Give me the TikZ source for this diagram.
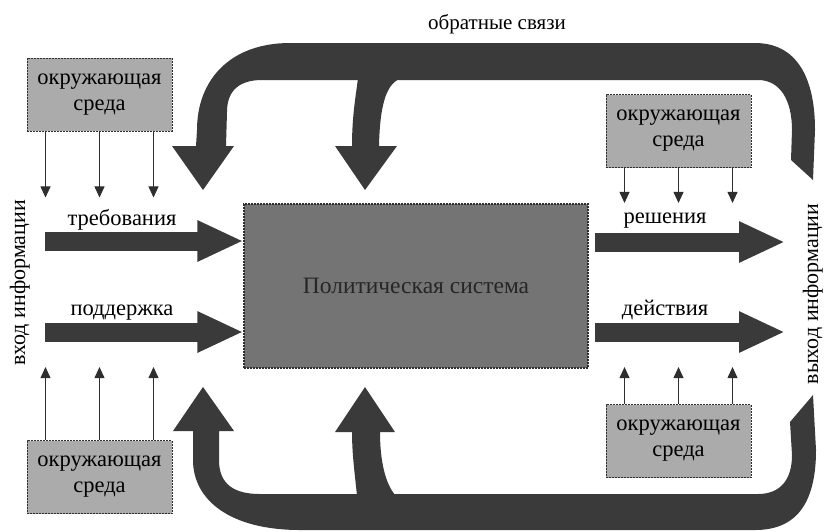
\documentclass[tikz,border=0pt]{standalone}
\usepackage{fontspec}
\setmainfont{Liberation Serif}
\usetikzlibrary{arrows.meta}
\definecolor{loopc}{HTML}{3A3A3A}
\definecolor{sysfill}{HTML}{747474}
\definecolor{envfill}{HTML}{ABABAB}
\definecolor{edgec}{HTML}{2E2E2E}
\tikzset{
  lbl/.style={font=\fontsize{22.5}{26}\selectfont, text=black, inner sep=0pt},
  vlbl/.style={font=\fontsize{22}{26}\selectfont, text=black, inner sep=0pt, rotate=90, anchor=base},
  envbox/.style={draw=edgec, line width=0.9pt, dash pattern=on 2pt off 1pt, fill=envfill,
    minimum width=145pt, minimum height=73pt, inner sep=0pt, align=center,
    font=\fontsize{22.5}{26}\selectfont},
  sysbox/.style={draw=edgec, line width=1.2pt, dash pattern=on 2pt off 1pt, fill=sysfill,
    minimum width=344pt, minimum height=164pt, inner sep=0pt,
    font=\fontsize{23.5}{26}\selectfont, text=black!85},
  thinarr/.style={draw=edgec, line width=0.9pt, -{Triangle[length=11pt,width=10pt]}},
  fatarr/.style={draw=loopc, line width=19pt, -{Triangle[length=46pt,width=38pt]}},
  loopfill/.style={fill=loopc, draw=none}
}
\begin{document}
\begin{tikzpicture}[x=1pt,y=-1pt]
\useasboundingbox (0,0) rectangle (826,531);

% feedback loops
\fill[loopfill] (203,190) -- (234,146) -- (226,146) -- (227,112)
  .. controls (227,90) and (240,80) .. (262,80) -- (758,80)
  .. controls (780,80) and (792,100) .. (792,130) -- (791,160) -- (813,180) -- (815,130)
  .. controls (815,75) and (795,43) .. (755,43) -- (290,43)
  .. controls (230,43) and (197,80) .. (197,130) -- (196,146) -- (172,146) -- cycle;
\fill[loopfill] (365,190) -- (335,146) -- (352,146)
  .. controls (352,115) and (356,95) .. (358,78) -- (402,78)
  .. controls (388,82) and (380,100) .. (379,146) -- (397,146) -- cycle;
\fill[loopfill] (203,387) -- (234,431) -- (219,431) -- (219,460)
  .. controls (219,485) and (235,494) .. (260,494) -- (758,494)
  .. controls (780,494) and (792,480) .. (792,455) -- (790,422) -- (813,395) -- (816,450)
  .. controls (816,505) and (795,530) .. (755,530) -- (300,530)
  .. controls (230,530) and (193,500) .. (193,460) -- (193,431) -- (173,431) -- cycle;
\fill[loopfill] (365,387) -- (395,432) -- (380,432)
  .. controls (380,460) and (385,484) .. (396,496) -- (357,496)
  .. controls (355,475) and (352,455) .. (352,432) -- (335,432) -- cycle;

% boxes
\node[sysbox] (sys) at (416,286) {Политическая система};
\node[envbox] (envTL) at (99.5,94.5) {окружающая\\среда};
\node[envbox] (envBL) at (99.5,477) {окружающая\\среда};
\node[envbox] (envTR) at (678.5,131) {окружающая\\среда};
\node[envbox] (envBR) at (678.5,441) {окружающая\\среда};

% thin arrows
\foreach \dx in {-54,0,54}{
  \draw[thinarr] ([xshift=\dx pt]envTL.south) -- ++(0,66);
  \draw[thinarr] ([xshift=\dx pt]envBL.north) -- ++(0,-73);
}
\foreach \dx in {-54,0,54}{
  \draw[thinarr] ([xshift=\dx pt]envTR.south) -- ++(0,35);
  \draw[thinarr] ([xshift=\dx pt]envBR.north) -- ++(0,-37);
}

% thick arrows
\coordinate (inA) at (45,241);
\coordinate (inB) at (45,332);
\coordinate (outA) at (595,242);
\coordinate (outB) at (595,332);
\coordinate (endA) at (785,242);
\coordinate (endB) at (785,332);
\draw[fatarr] (inA) -- (inA -| sys.west);
\draw[fatarr] (inB) -- (inB -| sys.west);
\draw[fatarr] (outA) -- (endA);
\draw[fatarr] (outB) -- (endB);

% labels
\node[lbl, anchor=base] (ltreb) at (122,225) {требования};
\node[lbl, anchor=base] (lpodd) at (122,315) {поддержка};
\node[lbl, anchor=base] (lresh) at (665,223) {решения};
\node[lbl, anchor=base, font=\fontsize{21}{24}\selectfont] (ltitle) at (497,29) {обратные связи};
\node[vlbl] (lin) at (25,283) {вход информации};
\node[vlbl] (lout) at (818,294) {выход информации};
\node[lbl, anchor=base] (ldeis) at (665,315) {действия};
\end{tikzpicture}
\end{document}
